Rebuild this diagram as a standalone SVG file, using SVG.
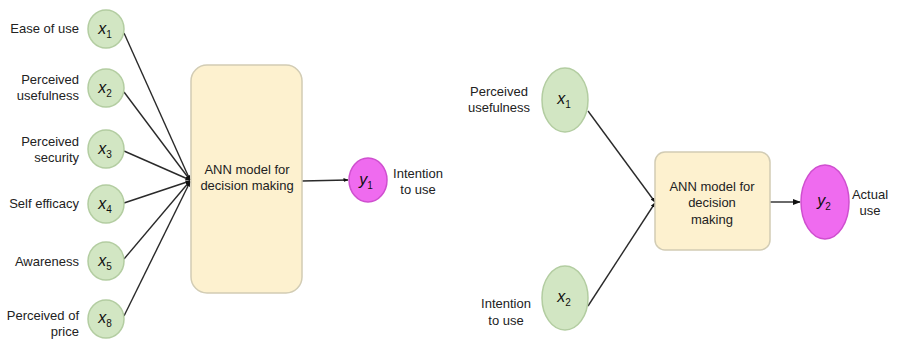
<svg xmlns="http://www.w3.org/2000/svg" width="898" height="340" viewBox="0 0 898 340">
<defs>
<marker id="ah" viewBox="0 0 10 10" refX="9" refY="5" markerWidth="5" markerHeight="5" orient="auto" markerUnits="userSpaceOnUse"><path d="M0,1 L10,5 L0,9 Z" fill="#111"/></marker>
<marker id="ah2" viewBox="0 0 10 10" refX="9" refY="5" markerWidth="8" markerHeight="8" orient="auto" markerUnits="userSpaceOnUse"><path d="M0,1 L10,5 L0,9 Z" fill="#111"/></marker>
</defs>
<style>
.in{fill:#d2e6c3;stroke:#b3cda1;stroke-width:1.5}
.out{fill:#ef6bef;stroke:#cf4fcf;stroke-width:1.5}
.box{fill:#fdf1cf;stroke:#d2ccb4;stroke-width:1.5}
.lbl{font-family:"Liberation Sans",Arial,sans-serif;font-size:13px;fill:#222}
.var{font-family:"Liberation Sans",Arial,sans-serif;font-size:16px;font-style:italic;fill:#111;text-anchor:middle}
.sub{font-size:10px;font-style:normal}
.c{stroke:#2a2a2a;stroke-width:1.4;fill:none}
</style>
<rect width="898" height="340" fill="#fff"/>
<g id="connectors">
<line class="c" x1="124" y1="33" x2="190" y2="180" marker-end="url(#ah)"/>
<line class="c" x1="124" y1="92" x2="190" y2="180" marker-end="url(#ah)"/>
<line class="c" x1="124" y1="151" x2="190" y2="180" marker-end="url(#ah)"/>
<line class="c" x1="124" y1="203" x2="190" y2="181" marker-end="url(#ah)"/>
<line class="c" x1="124" y1="259" x2="190" y2="181" marker-end="url(#ah)"/>
<line class="c" x1="124" y1="316" x2="190" y2="182" marker-end="url(#ah)"/>
<line class="c" x1="302" y1="181" x2="348" y2="180" marker-end="url(#ah)"/>
<line class="c" x1="588" y1="111" x2="655" y2="202" marker-end="url(#ah)"/>
<line class="c" x1="588" y1="306" x2="655" y2="203" marker-end="url(#ah)"/>
<line class="c" x1="770" y1="202" x2="800" y2="202" stroke-width="1.8" marker-end="url(#ah2)"/>
</g>
<g id="l-x1"><ellipse class="in" cx="106" cy="29" rx="18" ry="19"/><text class="var" x="105" y="34">x<tspan class="sub" dy="4">1</tspan></text><text class="lbl" x="79" y="33" text-anchor="end">Ease of use</text></g>
<g id="l-x2"><ellipse class="in" cx="106" cy="88" rx="18" ry="19"/><text class="var" x="105" y="93">x<tspan class="sub" dy="4">2</tspan></text><text class="lbl" x="79" y="84" text-anchor="end">Perceived</text><text class="lbl" x="79" y="100" text-anchor="end">usefulness</text></g>
<g id="l-x3"><ellipse class="in" cx="106" cy="149" rx="18" ry="19"/><text class="var" x="105" y="154">x<tspan class="sub" dy="4">3</tspan></text><text class="lbl" x="79" y="146" text-anchor="end">Perceived</text><text class="lbl" x="79" y="162" text-anchor="end">security</text></g>
<g id="l-x4"><ellipse class="in" cx="106" cy="204" rx="18" ry="19"/><text class="var" x="105" y="209">x<tspan class="sub" dy="4">4</tspan></text><text class="lbl" x="79" y="208" text-anchor="end">Self efficacy</text></g>
<g id="l-x5"><ellipse class="in" cx="106" cy="261" rx="18" ry="19"/><text class="var" x="105" y="266">x<tspan class="sub" dy="4">5</tspan></text><text class="lbl" x="79" y="266" text-anchor="end">Awareness</text></g>
<g id="l-x8"><ellipse class="in" cx="106" cy="319" rx="18" ry="19"/><text class="var" x="105" y="323">x<tspan class="sub" dy="4">8</tspan></text><text class="lbl" x="79" y="320" text-anchor="end">Perceived of</text><text class="lbl" x="79" y="336" text-anchor="end">price</text></g>
<g id="l-ann"><rect class="box" x="191" y="65" width="111" height="228" rx="16"/><text class="lbl" x="247" y="174" text-anchor="middle">ANN model for</text><text class="lbl" x="247" y="190" text-anchor="middle">decision making</text></g>
<g id="l-y1"><ellipse class="out" cx="368" cy="180" rx="19" ry="22"/><text class="var" x="366" y="185">y<tspan class="sub" dy="4">1</tspan></text><text class="lbl" x="418" y="178" text-anchor="middle">Intention</text><text class="lbl" x="418" y="194" text-anchor="middle">to use</text></g>
<g id="r-x1"><ellipse class="in" cx="565" cy="100" rx="23" ry="32"/><text class="var" x="564" y="104">x<tspan class="sub" dy="4">1</tspan></text><text class="lbl" x="499" y="96" text-anchor="middle">Perceived</text><text class="lbl" x="499" y="112" text-anchor="middle">usefulness</text></g>
<g id="r-x2"><ellipse class="in" cx="565" cy="298" rx="23" ry="32"/><text class="var" x="564" y="302">x<tspan class="sub" dy="4">2</tspan></text><text class="lbl" x="506" y="308" text-anchor="middle">Intention</text><text class="lbl" x="506" y="325" text-anchor="middle">to use</text></g>
<g id="r-ann"><rect class="box" x="655" y="152" width="115" height="98" rx="10"/><text class="lbl" x="712" y="191" text-anchor="middle">ANN model for</text><text class="lbl" x="712" y="207" text-anchor="middle">decision</text><text class="lbl" x="712" y="224" text-anchor="middle">making</text></g>
<g id="r-y2"><ellipse class="out" cx="825" cy="202" rx="24" ry="37"/><text class="var" x="824" y="206">y<tspan class="sub" dy="4">2</tspan></text><text class="lbl" x="870" y="199" text-anchor="middle">Actual</text><text class="lbl" x="870" y="215" text-anchor="middle">use</text></g>
</svg>
